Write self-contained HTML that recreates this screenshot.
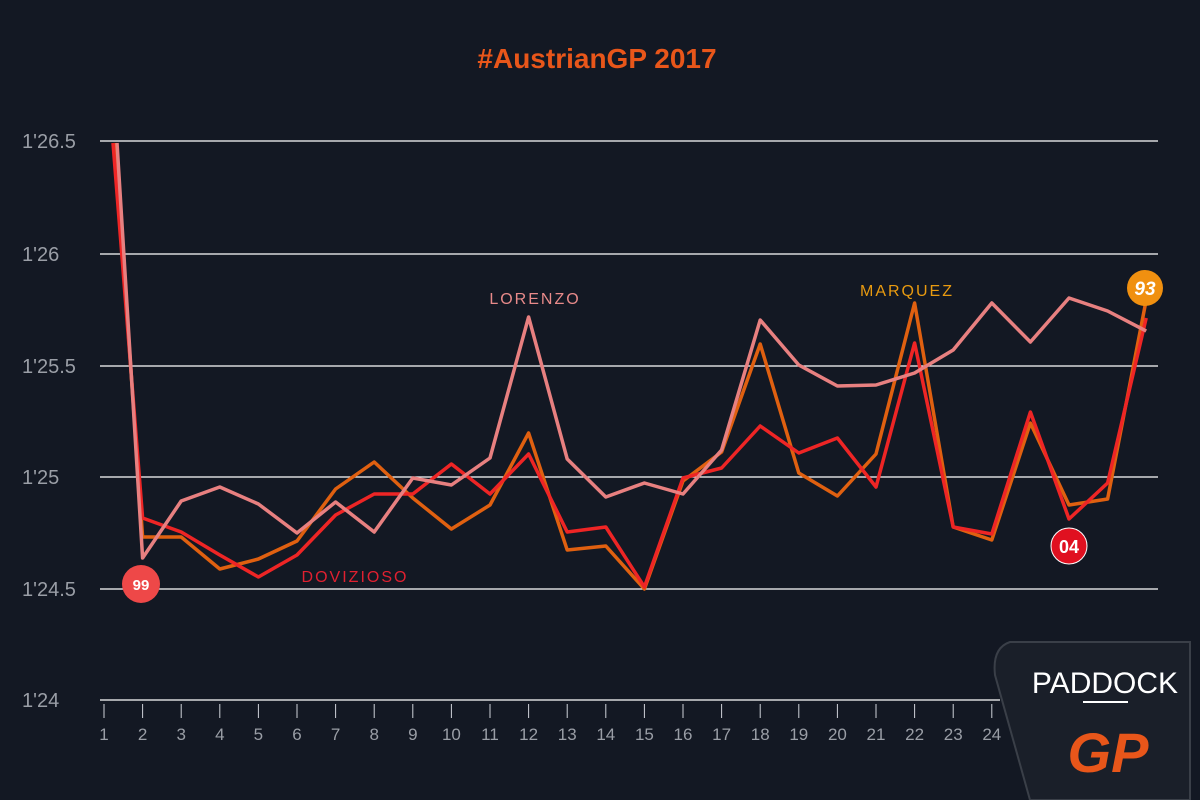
<!DOCTYPE html>
<html><head><meta charset="utf-8"><style>
html,body{margin:0;padding:0;background:#131823;}
svg{display:block;}
</style></head><body>
<svg width="1200" height="800" viewBox="0 0 1200 800" xmlns="http://www.w3.org/2000/svg" font-family="Liberation Sans, sans-serif">
<rect width="1200" height="800" fill="#131823"/>
<text x="597" y="68" text-anchor="middle" font-size="28" font-weight="bold" fill="#e8561a">#AustrianGP 2017</text>
<g stroke="#ffffff" stroke-width="1.3">
<line x1="100" y1="141" x2="1158" y2="141"/>
<line x1="100" y1="254" x2="1158" y2="254"/>
<line x1="100" y1="366" x2="1158" y2="366"/>
<line x1="100" y1="477" x2="1158" y2="477"/>
<line x1="100" y1="589" x2="1158" y2="589"/>
<line x1="100" y1="700" x2="1000" y2="700"/>
</g>
<g fill="#9a9ea6" font-size="20" text-anchor="start">
<text x="22" y="148">1'26.5</text><text x="22" y="261">1'26</text><text x="22" y="373">1'25.5</text>
<text x="22" y="484">1'25</text><text x="22" y="596">1'24.5</text><text x="22" y="707">1'24</text>
</g>
<g id="ticks" stroke="#cfd2d8" stroke-width="1"></g>
<g id="xl" fill="#9a9ea6" font-size="17" text-anchor="middle"></g>
<g fill="none" stroke-width="3.5" stroke-linejoin="round">
<polyline id="mq" stroke="#e06010"/>
<polyline id="dv" stroke="#ee2525"/>
<polyline id="lo" stroke="#e88080"/>
</g>
<text x="535" y="304" text-anchor="middle" font-size="16" fill="#e88a8a" letter-spacing="2">LORENZO</text>
<text x="355" y="582" text-anchor="middle" font-size="16" fill="#e02030" letter-spacing="2">DOVIZIOSO</text>
<text x="907" y="296" text-anchor="middle" font-size="16" fill="#e89a10" letter-spacing="2">MARQUEZ</text>
<circle cx="141" cy="584" r="19" fill="#ee4848"/><text x="141" y="590" text-anchor="middle" font-size="15" font-weight="bold" fill="#fff">99</text>
<circle cx="1069" cy="546" r="18" fill="#e01020" stroke="#fff" stroke-width="1"/><text x="1069" y="553" text-anchor="middle" font-size="18" font-weight="bold" fill="#fff">04</text>
<circle cx="1145" cy="288" r="18" fill="#f09010"/><text x="1145" y="295" text-anchor="middle" font-size="19" font-weight="bold" font-style="italic" fill="#fff">93</text>
<path d="M1010 642 L1190 642 L1190 800 L1030 800 L995 675 Q992 648 1010 642Z" fill="#1a1f29" stroke="#3a3f48" stroke-width="2"/>
<text x="1105" y="693" text-anchor="middle" font-size="30" fill="#fff">PADDOCK</text>
<line x1="1083" y1="702" x2="1128" y2="702" stroke="#fff" stroke-width="2"/>
<text x="1108" y="772" text-anchor="middle" font-size="56" font-weight="bold" font-style="italic" fill="#e8561a">GP</text>
</svg>
<script>
var X=function(i){return 104+(i-1)*38.6;};
var lo=[143,558,501,487,504,533,502,532,478,485,458,317,459,497,483,494,450,320,365,386,385,373,350,303,342,298,311,331];
var dv=[143,518,532,555,577,555,515,494,494,464,494,454,532,527,587,478,468,426,453,438,487,343,527,534,412,519,483,318];
var mq=[143,537,537,569,559,541,489,462,498,529,505,433,550,546,589,481,452,344,473,496,454,303,527,540,423,505,499,300];
function pts(a,o){return a.map(function(y,i){return (i==0?113+o:X(i+1))+','+y;}).join(' ');}
document.getElementById('lo').setAttribute('points',pts(lo,4));
document.getElementById('dv').setAttribute('points',pts(dv,0));
document.getElementById('mq').setAttribute('points',pts(mq,2));
var t='',l='';
for(var i=1;i<=24;i++){var x=X(i);t+='<line x1="'+x+'" y1="704" x2="'+x+'" y2="718"/>';l+='<text x="'+x+'" y="740">'+i+'</text>';}
document.getElementById('ticks').innerHTML=t;document.getElementById('xl').innerHTML=l;
</script>
</body></html>
